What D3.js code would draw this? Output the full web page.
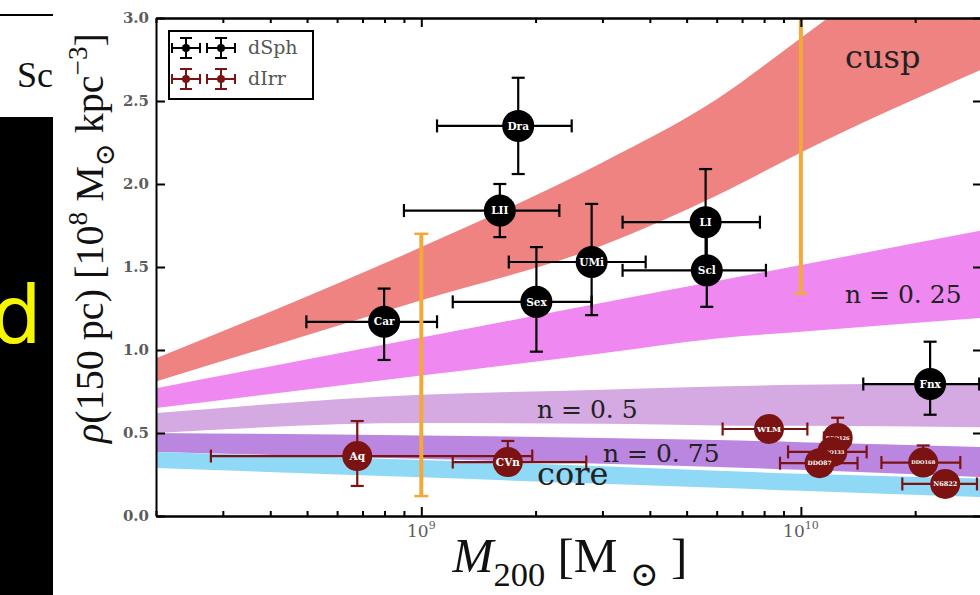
<!DOCTYPE html>
<html>
<head>
<meta charset="utf-8">
<script src="https://cdn.jsdelivr.net/npm/d3@7"></script>
<style>
  html, body { margin: 0; padding: 0; background: #fff; }
  svg { display: block; }
</style>
</head>
<body>
<svg id="chart" width="980" height="595"></svg>
<script>
// ---- axis ticks ----
const yTicks = [0, 0.5, 1.0, 1.5, 2.0, 2.5, 3.0];
const xMajorTicks = [1e9, 1e10];
const xMajorExp = ["9", "10"];

// ---- dSph galaxies: M200 (Msun) with range, rho(150pc) (1e8 Msun/kpc^3) with range ----
const dsphNames  = ["Car", "Dra", "LII", "UMi", "Sex", "LI", "Scl", "Fnx"];
const dsphM      = [7.98e8, 1.80e9, 1.61e9, 2.81e9, 2.01e9, 5.61e9, 5.65e9, 2.19e10];
const dsphMLo    = [4.98e8, 1.10e9, 9.00e8, 1.70e9, 1.21e9, 3.39e9, 3.39e9, 1.46e10];
const dsphMHi    = [1.10e9, 2.49e9, 2.31e9, 3.90e9, 2.81e9, 7.80e9, 8.09e9, 2.95e10];
const dsphRho    = [1.17, 2.35, 1.84, 1.53, 1.29, 1.77, 1.48, 0.795];
const dsphRhoLo  = [0.94, 2.06, 1.68, 1.21, 0.99, 1.50, 1.26, 0.61];
const dsphRhoHi  = [1.37, 2.64, 2.00, 1.88, 1.62, 2.09, 1.76, 1.05];

// ---- dIrr galaxies ----
const dirrNames  = ["Aq", "CVn", "WLM", "DDO126", "DDO133", "DDO87", "DDO168", "N6822"];
const dirrM      = [6.78e8, 1.69e9, 8.24e9, 1.25e10, 1.21e10, 1.12e10, 2.10e10, 2.40e10];
const dirrMLo    = [2.79e8, 1.21e9, 6.22e9, 1.15e10, 9.25e9, 8.81e9, 1.63e10, 1.85e10];
const dirrMHi    = [1.96e9, 2.72e9, 1.04e10, 1.35e10, 1.49e10, 1.41e10, 2.63e10, 2.91e10];
const dirrRho    = [0.361, 0.325, 0.524, 0.470, 0.386, 0.318, 0.322, 0.193];
const dirrRhoLo  = [0.181, 0.285, 0.495, 0.420, 0.350, 0.285, 0.290, 0.170];
const dirrRhoHi  = [0.572, 0.452, 0.555, 0.592, 0.420, 0.350, 0.425, 0.215];

// ---- model bands: density range vs M200 ----
const bandMass = [2e8, 1e9, 3e9, 6e9, 1e10, 3e10];
const cuspLo = [0.81, 1.30, 1.63, 1.93, 2.19, 2.69];
const cuspHi = [0.95, 1.62, 2.13, 2.51, 2.88, 3.70];
const n025Lo = [0.65, 0.846, 0.98, 1.07, 1.11, 1.193];
const n025Hi = [0.77, 1.075, 1.284, 1.415, 1.512, 1.72];
const n05Lo  = [0.50, 0.56, 0.555, 0.545, 0.543, 0.535];
const n05Hi  = [0.62, 0.73, 0.76, 0.78, 0.79, 0.80];
const n075Lo = [0.386, 0.345, 0.315, 0.295, 0.278, 0.235];
const n075Hi = [0.50, 0.485, 0.47, 0.458, 0.445, 0.416];
const coreLo = [0.289, 0.233, 0.194, 0.170, 0.152, 0.114];
const coreHi = [0.386, 0.338, 0.300, 0.272, 0.255, 0.225];
const bandNames = ["cusp", "n = 0. 25", "n = 0. 5", "n = 0. 75", "core"];

// ---- vertical ranges at fixed mass ----
const rangeM  = [1e9, 1e10];
const rangeLo = [0.12, 1.34];
const rangeHi = [1.70, 3.30];

// ---- legend ----
const legendLabels = ["dSph", "dIrr"];

const svg = d3.select("#chart");
const plot = { left: 156, right: 982, top: 18, bottom: 516 };

const x = d3.scaleLog().domain([2e8, 3e10]).range([plot.left, plot.right]);
const y = d3.scaleLinear().domain([0, 3]).range([plot.bottom, plot.top]);

const COL = {
  cusp: "#ef8381", n025: "#ef89f1", n05: "#d5a9e2", n075: "#ba86e0", core: "#90d9f6",
  range: "#f3a93a", dsph: "#000000", dirr: "#7c1313"
};
const serif = "'DejaVu Serif', serif";
const lserif = "'Liberation Serif', 'DejaVu Serif', serif";

// ---------- neighbouring panel strip on the left ----------
const defs = svg.append("defs");
defs.append("clipPath").attr("id", "stripClip")
  .append("rect").attr("x", 0).attr("y", 0).attr("width", 53).attr("height", 595);
defs.append("clipPath").attr("id", "plotClip")
  .append("rect").attr("x", plot.left).attr("y", plot.top)
  .attr("width", plot.right - plot.left).attr("height", plot.bottom - plot.top);

const strip = svg.append("g").attr("clip-path", "url(#stripClip)");
strip.append("line").attr("x1", 0).attr("x2", 53).attr("y1", 15).attr("y2", 15)
  .attr("stroke", "#000").attr("stroke-width", 2);
strip.append("text").attr("x", 17).attr("y", 87).text("Sc")
  .attr("font-family", lserif).attr("font-size", 36).attr("fill", "#111");
strip.append("rect").attr("x", 0).attr("y", 117).attr("width", 53).attr("height", 478).attr("fill", "#000");
strip.append("text").attr("x", -9).attr("y", 343).text("d")
  .attr("font-family", "'DejaVu Sans', sans-serif").attr("font-size", 80).attr("fill", "#f6f600");

// ---------- bands ----------
const plotG = svg.append("g").attr("clip-path", "url(#plotClip)");
const bands = [
  { lo: cuspLo, hi: cuspHi, c: COL.cusp },
  { lo: n025Lo, hi: n025Hi, c: COL.n025 },
  { lo: n05Lo,  hi: n05Hi,  c: COL.n05 },
  { lo: n075Lo, hi: n075Hi, c: COL.n075 },
  { lo: coreLo, hi: coreHi, c: COL.core }
];
const area = d3.area()
  .x(d => x(d.m)).y0(d => y(d.lo)).y1(d => y(d.hi))
  .curve(d3.curveMonotoneX);
bands.forEach(b => {
  const rows = bandMass.map((m, i) => ({ m, lo: b.lo[i], hi: b.hi[i] }));
  plotG.append("path").datum(rows).attr("d", area).attr("fill", b.c);
});

// ---------- error bars and markers ----------
function makeRows(names, m, mLo, mHi, r, rLo, rHi) {
  return names.map((n, i) => ({ name: n, m: m[i], mLo: mLo[i], mHi: mHi[i], rho: r[i], rLo: rLo[i], rHi: rHi[i] }));
}
const dsph = makeRows(dsphNames, dsphM, dsphMLo, dsphMHi, dsphRho, dsphRhoLo, dsphRhoHi);
const dirr = makeRows(dirrNames, dirrM, dirrMLo, dirrMHi, dirrRho, dirrRhoLo, dirrRhoHi);

const CAP = 6.5;
function drawErrors(g, rows, color) {
  rows.forEach(d => {
    const cx = x(d.m), cy = y(d.rho);
    const x0 = x(d.mLo), x1 = x(d.mHi), y0 = y(d.rLo), y1 = y(d.rHi);
    const segs = [
      [x0, cy, x1, cy], [x0, cy - CAP, x0, cy + CAP], [x1, cy - CAP, x1, cy + CAP],
      [cx, y0, cx, y1], [cx - CAP, y0, cx + CAP, y0], [cx - CAP, y1, cx + CAP, y1]
    ];
    segs.forEach(s => g.append("line")
      .attr("x1", s[0]).attr("y1", s[1]).attr("x2", s[2]).attr("y2", s[3])
      .attr("stroke", color).attr("stroke-width", 2.2));
  });
}
function drawMarkers(g, rows, color, r) {
  const mg = g.selectAll(null).data(rows).enter().append("g")
    .attr("transform", d => `translate(${x(d.m)},${y(d.rho)})`);
  mg.append("circle").attr("r", r).attr("fill", color);
  mg.append("text").text(d => d.name)
    .attr("text-anchor", "middle").attr("dy", "0.35em")
    .attr("font-family", serif).attr("font-weight", "bold")
    .attr("font-size", 10.5)
    .attr("fill", "#fff")
    .each(function () {
      // shrink long names so they stay inside the disc
      const w = this.getComputedTextLength();
      const maxW = 2 * r - 6;
      if (w > maxW) d3.select(this).attr("font-size", 10.5 * maxW / w);
    });
}

drawErrors(plotG, dsph, COL.dsph);
drawErrors(plotG, dirr, COL.dirr);

// vertical orange ranges
rangeM.forEach((m, i) => {
  const cx = x(m);
  plotG.append("line").attr("x1", cx).attr("x2", cx).attr("y1", y(rangeLo[i])).attr("y2", y(rangeHi[i]))
    .attr("stroke", COL.range).attr("stroke-width", 4);
  [rangeLo[i], rangeHi[i]].forEach(v => plotG.append("line")
    .attr("x1", cx - 7).attr("x2", cx + 7).attr("y1", y(v)).attr("y2", y(v))
    .attr("stroke", COL.range).attr("stroke-width", 2.5));
});

drawMarkers(plotG, dsph, COL.dsph, 16);
drawMarkers(plotG, dirr, COL.dirr, 15);

// ---------- band labels ----------
const bandLabelPos = [
  { x: 845, y: 68, fs: 32 },
  { x: 845, y: 303, fs: 25 },
  { x: 537, y: 418, fs: 25 },
  { x: 603, y: 462, fs: 25 },
  { x: 537, y: 485, fs: 32 }
];
bandNames.forEach((t, i) => {
  plotG.append("text").attr("x", bandLabelPos[i].x).attr("y", bandLabelPos[i].y)
    .text(t).attr("font-family", serif).attr("font-size", bandLabelPos[i].fs)
    .attr("fill", "#222");
});

// ---------- axes ----------
const axG = svg.append("g");
const xMinor = x.ticks().filter(v => !xMajorTicks.some(t => Math.abs(t - v) / t < 1e-6));

function styleAxis(g) {
  g.select(".domain").attr("stroke", "#000").attr("stroke-width", 2);
  g.selectAll(".tick line").attr("stroke", "#000").attr("stroke-width", 2);
}
// bottom
axG.append("g").attr("transform", `translate(0,${plot.bottom})`)
  .call(d3.axisBottom(x).tickValues(xMajorTicks).tickSize(-9).tickSizeOuter(0).tickFormat(""))
  .call(styleAxis);
axG.append("g").attr("transform", `translate(0,${plot.bottom})`)
  .call(d3.axisBottom(x).tickValues(xMinor).tickSize(-5).tickSizeOuter(0).tickFormat(""))
  .call(styleAxis);
// top
axG.append("g").attr("transform", `translate(0,${plot.top})`)
  .call(d3.axisTop(x).tickValues(xMajorTicks).tickSize(-9).tickSizeOuter(0).tickFormat(""))
  .call(styleAxis);
axG.append("g").attr("transform", `translate(0,${plot.top})`)
  .call(d3.axisTop(x).tickValues(xMinor).tickSize(-5).tickSizeOuter(0).tickFormat(""))
  .call(styleAxis);
// left
const yAx = axG.append("g").attr("transform", `translate(${plot.left},0)`)
  .call(d3.axisLeft(y).tickValues(yTicks).tickSize(-9).tickSizeOuter(0).tickPadding(7)
    .tickFormat(d3.format(".1f")))
  .call(styleAxis);
yAx.selectAll(".tick text").attr("font-family", serif).attr("font-size", 15)
  .attr("font-weight", "bold").attr("fill", "#5c5c5c");
// right
axG.append("g").attr("transform", `translate(${plot.right},0)`)
  .call(d3.axisRight(y).tickValues(yTicks).tickSize(-9).tickSizeOuter(0).tickFormat(""))
  .call(styleAxis);

// x major tick labels 10^n
xMajorTicks.forEach((v, i) => {
  const t = axG.append("text").attr("x", x(v)).attr("y", 537).attr("text-anchor", "middle")
    .attr("font-family", serif).attr("font-size", 17).attr("fill", "#5c5c5c");
  t.append("tspan").text("10");
  t.append("tspan").text(xMajorExp[i]).attr("font-size", 11).attr("dy", -8);
});

// ---------- axis titles ----------
function fitText(sel, target) {
  const fs = +sel.attr("font-size");
  const len = sel.node().getComputedTextLength();
  sel.attr("font-size", fs * target / len);
}
const xt = svg.append("text").attr("x", 570).attr("y", 572).attr("text-anchor", "middle")
  .attr("font-family", lserif).attr("font-size", 36).attr("fill", "#111");
xt.append("tspan").text("M").attr("font-style", "italic");
xt.append("tspan").text("200").attr("font-size", "0.7em").attr("dy", "0.42em");
xt.append("tspan").text(" [M ").attr("dy", "-0.294em");
xt.append("tspan").text("\u2299").attr("font-size", "0.7em").attr("dy", "0.42em");
xt.append("tspan").text(" ]").attr("dy", "-0.294em");
fitText(xt, 235);

const yt = svg.append("text").attr("transform", "translate(103,238) rotate(-90)")
  .attr("text-anchor", "middle")
  .attr("font-family", lserif).attr("font-size", 36).attr("fill", "#111");
yt.append("tspan").text("\u03C1").attr("font-style", "italic");
yt.append("tspan").text("(150 pc) [10");
yt.append("tspan").text("8").attr("font-size", "0.68em").attr("dy", "-0.6em");
yt.append("tspan").text(" M").attr("dy", "0.408em");
yt.append("tspan").text("\u2299").attr("font-size", "0.68em").attr("dy", "0.4em");
yt.append("tspan").text(" kpc").attr("dy", "-0.272em");
yt.append("tspan").text("\u22123").attr("font-size", "0.68em").attr("dy", "-0.6em");
yt.append("tspan").text("]").attr("dy", "0.408em");
fitText(yt, 410);

// ---------- legend ----------
const lg = svg.append("g");
lg.append("rect").attr("x", 169).attr("y", 31).attr("width", 144).attr("height", 68)
  .attr("fill", "#fff").attr("stroke", "#000").attr("stroke-width", 2);
const legendColors = [COL.dsph, COL.dirr];
const legendY = [48, 79];
legendLabels.forEach((lab, i) => {
  [186, 221].forEach(cx => {
    const cy = legendY[i];
    const c = legendColors[i];
    const segs = [
      [cx - 14, cy, cx + 14, cy], [cx - 14, cy - 5, cx - 14, cy + 5], [cx + 14, cy - 5, cx + 14, cy + 5],
      [cx, cy - 10, cx, cy + 10], [cx - 6, cy - 10, cx + 6, cy - 10], [cx - 6, cy + 10, cx + 6, cy + 10]
    ];
    segs.forEach(s => lg.append("line").attr("x1", s[0]).attr("y1", s[1]).attr("x2", s[2]).attr("y2", s[3])
      .attr("stroke", c).attr("stroke-width", 2));
    lg.append("circle").attr("cx", cx).attr("cy", cy).attr("r", 4).attr("fill", c);
  });
  lg.append("text").attr("x", 248).attr("y", legendY[i] + 6).text(lab)
    .attr("font-family", serif).attr("font-size", 19).attr("fill", "#555");
});
</script>
</body>
</html>
